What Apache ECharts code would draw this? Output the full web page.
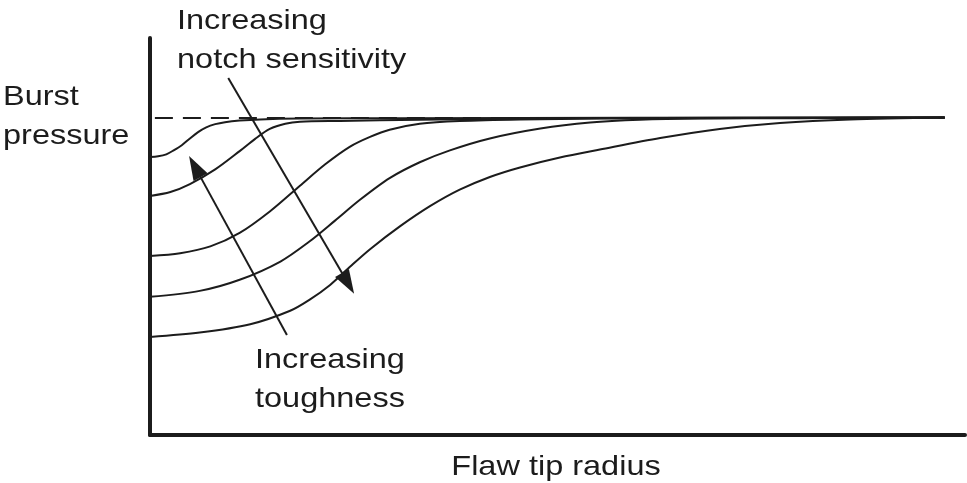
<!DOCTYPE html>
<html>
<head>
<meta charset="utf-8">
<script src="https://cdn.jsdelivr.net/npm/echarts@6/dist/echarts.min.js"></script>
<style>
html,body{margin:0;padding:0;background:#fff}
#main{width:967px;height:483px}
</style>
</head>
<body>
<div id="main"></div>
<script>
var ink = '#1c1c1c';
var font = '28px "Liberation Sans", Arial, sans-serif';

// flaw tip radius (x) vs burst pressure (y), arbitrary units 0-100
var curve1X = [0, 1.0, 2.0, 2.9, 3.9, 4.9, 5.9, 6.9, 8.0, 9.2, 11.0, 13.5, 18.4, 30.7, 97.5];
var curve1Y = [70.0, 70.2, 70.7, 71.7, 73.0, 74.7, 76.3, 77.5, 78.3, 78.8, 79.2, 79.5, 79.7, 79.8, 80];
var curve2X = [0, 2.5, 4.9, 8.0, 11.0, 12.9, 14.7, 16.6, 18.4, 23.3, 33.1, 42.9, 52.8, 97.5];
var curve2Y = [60.2, 61.2, 63.2, 66.9, 71.5, 74.6, 77.1, 78.4, 78.9, 79.1, 79.4, 79.6, 79.8, 80];
var curve3X = [0, 3.7, 7.4, 11.0, 14.7, 18.4, 21.5, 24.5, 27.0, 29.4, 33.1, 38.0, 45.4, 55.2, 97.5];
var curve3Y = [45.1, 45.8, 47.5, 50.9, 56.3, 62.8, 68.2, 72.6, 75.1, 76.9, 78.4, 79.1, 79.5, 79.7, 80];
var curve4X = [0, 6.1, 11.0, 16.0, 19.6, 22.7, 25.8, 29.4, 33.1, 36.8, 41.7, 47.9, 54.0, 60.1, 67.5, 79.8, 97.5];
var curve4Y = [34.8, 36.3, 39.1, 43.7, 48.8, 54.0, 59.3, 64.7, 68.7, 71.7, 74.7, 77.2, 78.7, 79.4, 79.7, 79.8, 80];
var curve5X = [0, 6.1, 12.3, 17.2, 19.6, 22.1, 24.5, 27.0, 30.7, 34.4, 38.0, 41.7, 45.4, 50.3, 55.2, 62.6, 69.9, 77.3, 85.9, 97.5];
var curve5Y = [24.7, 25.8, 27.9, 31.3, 34.1, 37.8, 42.3, 46.8, 52.6, 57.7, 61.8, 65.0, 67.4, 69.9, 71.9, 74.8, 77.1, 78.6, 79.5, 80];

// dashed upper limit and the two trend arrows
var limitY = 80;
var limitX = [0.6, 97.5];
var toughArrow = [[16.8, 25.2], [5.5, 67.6]];
var notchArrow = [[9.6, 89.9], [24.3, 38.2]];

function zip(xs, ys) {
    var res = [];
    for (var i = 0; i < xs.length; i++) {
        res.push([xs[i], ys[i]]);
    }
    return res;
}

var curves = [
    zip(curve1X, curve1Y),
    zip(curve2X, curve2Y),
    zip(curve3X, curve3Y),
    zip(curve4X, curve4Y),
    zip(curve5X, curve5Y)
];

var series = [];
for (var i = 0; i < curves.length; i++) {
    series.push({
        type: 'line',
        data: curves[i],
        smooth: 0.3,
        showSymbol: false,
        symbol: 'none',
        lineStyle: {color: ink, width: 2},
        silent: true
    });
}

function arrow(a) {
    return [{coord: a[0]}, {coord: a[1]}];
}

series.push({
    type: 'line',
    data: [],
    silent: true,
    markLine: {
        silent: true,
        symbol: ['none', 'triangle'],
        symbolSize: [16, 24],
        label: {show: false},
        emphasis: {disabled: true},
        lineStyle: {color: ink, width: 2, type: 'solid'},
        data: [arrow(toughArrow), arrow(notchArrow)]
    }
});
series.push({
    type: 'line',
    data: [],
    silent: true,
    markLine: {
        silent: true,
        symbol: ['none', 'none'],
        label: {show: false},
        emphasis: {disabled: true},
        lineStyle: {color: ink, width: 2, type: [18, 10]},
        data: [[{coord: [limitX[0], limitY]}, {coord: [limitX[1], limitY]}]]
    }
});

function label(x, y, text, align) {
    return {
        type: 'text',
        x: x,
        y: y,
        scaleX: 1.16,
        style: {
            text: text,
            font: font,
            fill: ink,
            lineHeight: 39,
            align: align || 'left',
            verticalAlign: 'top'
        }
    };
}

var option = {
    animation: false,
    backgroundColor: '#fff',
    grid: {left: 150, right: 2, top: 38, bottom: 48},
    xAxis: {
        type: 'value',
        min: 0,
        max: 100,
        axisLine: {show: true, onZero: false, lineStyle: {color: ink, width: 4}},
        axisTick: {show: false},
        axisLabel: {show: false},
        splitLine: {show: false}
    },
    yAxis: {
        type: 'value',
        min: 0,
        max: 100,
        axisLine: {show: true, onZero: false, lineStyle: {color: ink, width: 4}},
        axisTick: {show: false},
        axisLabel: {show: false},
        splitLine: {show: false}
    },
    graphic: [
        label(3, 78, 'Burst\npressure'),
        label(177, 2, 'Increasing\nnotch sensitivity'),
        label(255, 341, 'Increasing\ntoughness'),
        label(556, 448, 'Flaw tip radius', 'center')
    ],
    series: series
};

var chart = echarts.init(document.getElementById('main'));
chart.setOption(option);
</script>
</body>
</html>
